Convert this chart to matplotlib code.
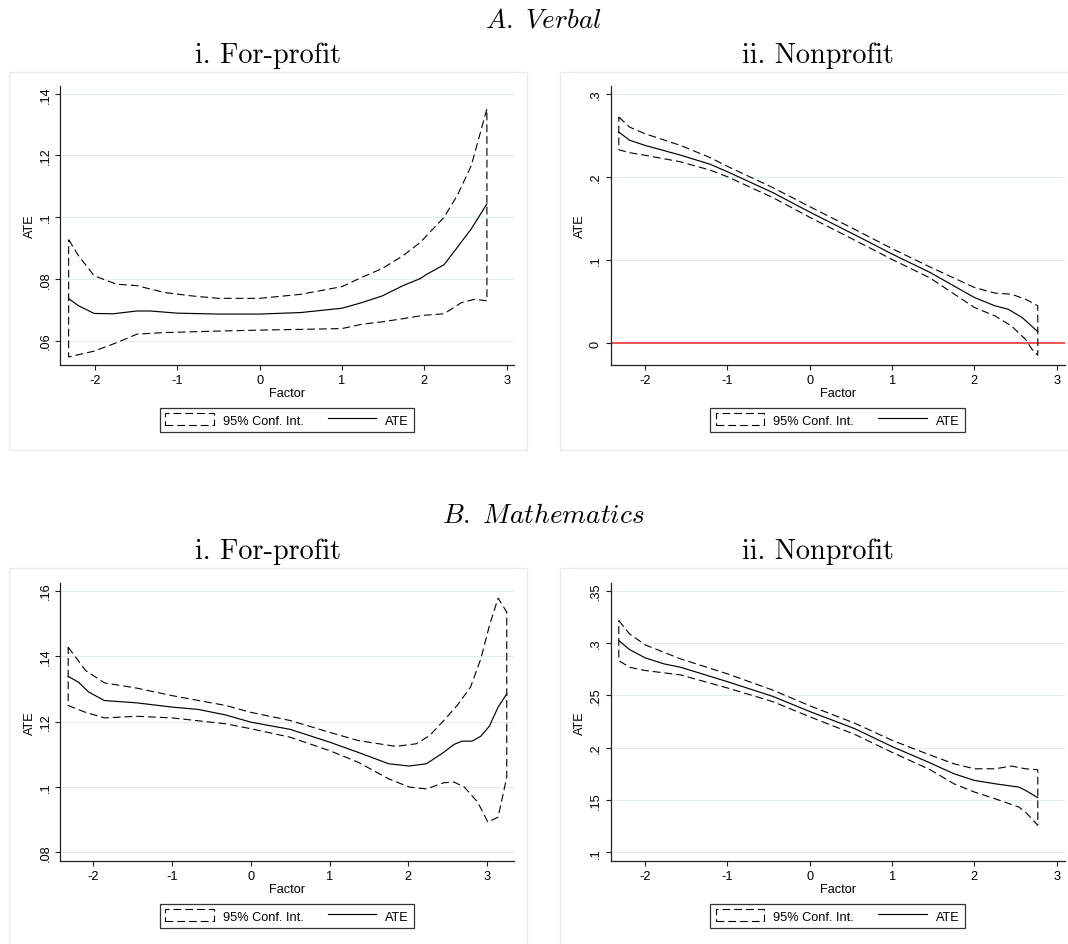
import numpy as np
import matplotlib
matplotlib.use("Agg")
import matplotlib.pyplot as plt
import matplotlib.patches as mpatches
from matplotlib.lines import Line2D

plt.rcParams['font.family'] = ['Liberation Sans', 'DejaVu Sans']
plt.rcParams['mathtext.fontset'] = 'cm'

# ---- data ----
x_ticks = [-2, -1, 0, 1, 2, 3]
x_tick_labels = ['-2', '-1', '0', '1', '2', '3']

# A. Verbal, i. For-profit
av_fp_ate_x = [-2.32, -2.20, -2.01, -1.78, -1.49, -1.33, -1.00, -0.50, 0.00, 0.50,
               1.00, 1.24, 1.49, 1.74, 1.95, 2.03, 2.24, 2.40, 2.57, 2.76]
av_fp_ate_y = [.0736, .0713, .0688, .0687, .0696, .0696, .0689, .0686, .0686, .0691,
               .0705, .0723, .0745, .0778, .0801, .0815, .0846, .0902, .0962, .1043]
av_fp_hi_x = [-2.32, -2.20, -2.01, -1.74, -1.49, -1.16, -0.83, -0.50, 0.00, 0.50,
              1.00, 1.24, 1.49, 1.74, 1.95, 2.24, 2.40, 2.57, 2.76]
av_fp_hi_y = [.0927, .0875, .0810, .0783, .0778, .0756, .0745, .0737, .0737, .0750,
              .0775, .0805, .0834, .0875, .0918, .1000, .1070, .1167, .1351]
av_fp_lo_x = [-2.32, -2.01, -1.74, -1.49, -1.16, -0.50, 0.00, 1.00, 1.24, 1.49,
              1.74, 1.99, 2.24, 2.45, 2.61, 2.76]
av_fp_lo_y = [.0547, .0566, .0593, .0621, .0626, .0631, .0634, .0639, .0653, .0661,
              .0671, .0682, .0687, .0723, .0734, .0729]
av_fp_yticks = [.06, .08, .1, .12, .14]
av_fp_ylabels = ['.06', '.08', '.1', '.12', '.14']

# A. Verbal, ii. Nonprofit
av_np_ate_x = [-2.32, -2.19, -2.00, -1.57, -1.21, -1.00, -0.45, 0.00, 0.55, 1.00,
               1.46, 2.00, 2.25, 2.41, 2.58, 2.77]
av_np_ate_y = [.2538, .2440, .2377, .2260, .2150, .2060, .1810, .1575, .1300, .1070,
               .0849, .0547, .0447, .0406, .0306, .0137]
av_np_hi_x = [-2.32, -2.19, -2.00, -1.57, -1.21, -1.00, -0.45, 0.00, 0.55, 1.00,
              1.46, 2.00, 2.25, 2.45, 2.62, 2.77]
av_np_hi_y = [.2719, .2598, .2517, .2377, .2230, .2125, .1870, .1640, .1365, .1135,
              .0915, .0668, .0600, .0587, .0527, .0447]
av_np_lo_x = [-2.32, -2.19, -2.00, -1.57, -1.21, -1.00, -0.45, 0.00, 0.55, 1.00,
              1.46, 2.00, 2.25, 2.45, 2.62, 2.70, 2.77]
av_np_lo_y = [.2325, .2290, .2258, .2180, .2080, .2000, .1750, .1512, .1235, .1005,
              .0783, .0427, .0326, .0205, .0045, -.0076, -.0148]
av_np_yticks = [0, .1, .2, .3]
av_np_ylabels = ['0', '.1', '.2', '.3']

# B. Mathematics, i. For-profit
bm_fp_ate_x = [-2.32, -2.19, -2.06, -1.86, -1.45, -1.00, -0.67, -0.32, 0.00, 0.50,
               1.00, 1.36, 1.75, 2.01, 2.23, 2.45, 2.58, 2.68, 2.81, 2.92, 3.03, 3.14, 3.25]
bm_fp_ate_y = [.1338, .1320, .1290, .1264, .1257, .1244, .1237, .1220, .1198, .1176,
               .1137, .1106, .1071, .1064, .1071, .1106, .1130, .1140, .1140, .1155,
               .1186, .1244, .1284]
bm_fp_hi_x = [-2.32, -2.10, -1.86, -1.45, -1.00, -0.32, 0.00, 0.50, 1.00, 1.36,
              1.84, 2.10, 2.27, 2.45, 2.62, 2.79, 2.92, 3.03, 3.14, 3.25]
bm_fp_hi_y = [.1427, .1356, .1318, .1302, .1279, .1249, .1228, .1203, .1167, .1142,
              .1124, .1132, .1157, .1203, .1249, .1305, .1391, .1493, .1577, .1534]
bm_fp_lo_x = [-2.32, -2.10, -1.86, -1.45, -1.00, -0.32, 0.00, 0.50, 1.00, 1.36,
              1.75, 2.01, 2.23, 2.45, 2.58, 2.71, 2.88, 3.01, 3.14, 3.25]
bm_fp_lo_y = [.1249, .1228, .1211, .1216, .1211, .1193, .1178, .1152, .1111, .1076,
              .1025, .1000, .0994, .1013, .1015, .1000, .0954, .0893, .0908, .1030]
bm_fp_yticks = [.08, .1, .12, .14, .16]
bm_fp_ylabels = ['.08', '.1', '.12', '.14', '.16']

# B. Mathematics, ii. Nonprofit
bm_np_ate_x = [-2.32, -2.19, -2.00, -1.77, -1.57, -1.00, -0.45, 0.00, 0.55, 1.00,
               1.46, 1.75, 2.00, 2.25, 2.54, 2.62, 2.77]
bm_np_ate_y = [.3023, .2937, .2858, .2800, .2768, .2630, .2490, .2345, .2180, .2010,
               .1855, .1751, .1687, .1655, .1623, .1592, .1522]
bm_np_hi_x = [-2.32, -2.19, -2.00, -1.57, -1.00, -0.45, 0.00, 0.55, 1.00, 1.46,
              1.75, 2.00, 2.25, 2.45, 2.62, 2.77]
bm_np_hi_y = [.3214, .3087, .2982, .2848, .2705, .2550, .2400, .2232, .2070, .1930,
              .1846, .1798, .1798, .1824, .1798, .1789]
bm_np_lo_x = [-2.32, -2.19, -2.00, -1.57, -1.00, -0.45, 0.00, 0.55, 1.00, 1.46,
              1.75, 2.00, 2.25, 2.54, 2.62, 2.77]
bm_np_lo_y = [.2832, .2768, .2737, .2695, .2570, .2440, .2295, .2125, .1955, .1790,
              .1655, .1576, .1512, .1433, .1385, .1258]
bm_np_yticks = [.1, .15, .2, .25, .3, .35]
bm_np_ylabels = ['.1', '.15', '.2', '.25', '.3', '.35']

W, H = 1068, 945
DASH = (0, (7, 3.6))
GRID = '#e4eded'
BOX = '#e6eeee'
FS = 9.2


def px_axes(left, right, top, bottom):
    return [left / W, 1 - bottom / H, (right - left) / W, (bottom - top) / H]


def draw_panel(fig, rect, xlim, ylim, yticks, ylabels,
               ate_x, ate_y, hi_x, hi_y, lo_x, lo_y, zero_line=False):
    ax = fig.add_axes(rect)
    ax.set_xlim(xlim)
    ax.set_ylim(ylim)
    ax.set_yticks(yticks, labels=ylabels, rotation=90, va='center')
    ax.set_xticks(x_ticks, labels=x_tick_labels)
    for s in ['top', 'right']:
        ax.spines[s].set_visible(False)
    for s in ['left', 'bottom']:
        ax.spines[s].set_color('#222222')
        ax.spines[s].set_linewidth(0.9)
    ax.tick_params(length=3.6, width=0.8, color='#222222', labelsize=FS, pad=2.6)
    ax.grid(axis='y', color=GRID, linewidth=0.8)
    ax.set_axisbelow(True)

    if zero_line:
        ax.axhline(0, color='#f04848', linewidth=1.3, zorder=1)

    # CI outline: upper curve, then lower curve back, closed at both ends
    ci_x = np.r_[hi_x, lo_x[::-1]]
    ci_y = np.r_[hi_y, lo_y[::-1]]
    ax.fill(ci_x, ci_y, facecolor='none', edgecolor='black',
            linestyle=DASH, linewidth=0.8, zorder=3)
    ax.plot(ate_x, ate_y, color='black', linewidth=0.85, zorder=4)

    ax.set_xlabel('Factor', fontsize=FS)
    ax.xaxis.set_label_coords(0.5, -0.078)
    ax.set_ylabel('ATE', fontsize=FS)
    ax.yaxis.set_label_coords(-0.053, 0.5)

    handles = [mpatches.Patch(facecolor='white', edgecolor='black',
                              linestyle=DASH, linewidth=0.8),
               Line2D([], [], color='black', linewidth=0.85)]
    leg = ax.legend(handles, ['95% Conf. Int.', 'ATE'], loc='center',
                    bbox_to_anchor=(0.5, -0.197), ncol=2, fontsize=FS,
                    frameon=True, fancybox=False, edgecolor='black',
                    handlelength=3.8, handleheight=1.1, handletextpad=0.7,
                    columnspacing=1.9, borderpad=0.42, borderaxespad=0)
    leg.get_frame().set_linewidth(0.9)
    return ax


fig = plt.figure(figsize=(W / 100, H / 100), dpi=100)

# light panel frames (Stata graph regions)
for (x0, y0, x1, y1) in [(8.5, 73, 527, 451), (560, 73, 1076, 451),
                         (8.5, 569, 527, 955), (560, 569, 1076, 955)]:
    fig.add_artist(mpatches.Rectangle((x0 / W, 1 - y1 / H), (x1 - x0) / W,
                                      (y1 - y0) / H, transform=fig.transFigure,
                                      facecolor='none', edgecolor=BOX,
                                      linewidth=1.0))

draw_panel(fig, px_axes(60, 514, 87, 366), (-2.425, 3.089), (.0521, .1425),
           av_fp_yticks, av_fp_ylabels, av_fp_ate_x, av_fp_ate_y,
           av_fp_hi_x, av_fp_hi_y, av_fp_lo_x, av_fp_lo_y)
draw_panel(fig, px_axes(610.5, 1064.7, 87, 366), (-2.421, 3.097), (-.0265, .3092),
           av_np_yticks, av_np_ylabels, av_np_ate_x, av_np_ate_y,
           av_np_hi_x, av_np_hi_y, av_np_lo_x, av_np_lo_y, zero_line=True)
draw_panel(fig, px_axes(60, 514, 584, 862), (-2.424, 3.342), (.0774, .1623),
           bm_fp_yticks, bm_fp_ylabels, bm_fp_ate_x, bm_fp_ate_y,
           bm_fp_hi_x, bm_fp_hi_y, bm_fp_lo_x, bm_fp_lo_y)
draw_panel(fig, px_axes(610.5, 1064.7, 584, 862), (-2.421, 3.097), (.0917, .3573),
           bm_np_yticks, bm_np_ylabels, bm_np_ate_x, bm_np_ate_y,
           bm_np_hi_x, bm_np_hi_y, bm_np_lo_x, bm_np_lo_y)

# titles
fig.text(543 / W, 1 - 27 / H, r'$\mathit{A.\ Verbal}$', fontsize=19.6,
         ha='center', va='baseline')
fig.text(543 / W, 1 - 523 / H, r'$\mathit{B.\ Mathematics}$', fontsize=19.6,
         ha='center', va='baseline')
for yb in [63, 559]:
    fig.text(268 / W, 1 - yb / H, 'i. For-profit', fontsize=20.3, family='cmr10',
             ha='center', va='baseline')
    fig.text(818 / W, 1 - yb / H, 'ii. Nonprofit', fontsize=20.3, family='cmr10',
             ha='center', va='baseline')

fig.savefig('out.png', dpi=100)
